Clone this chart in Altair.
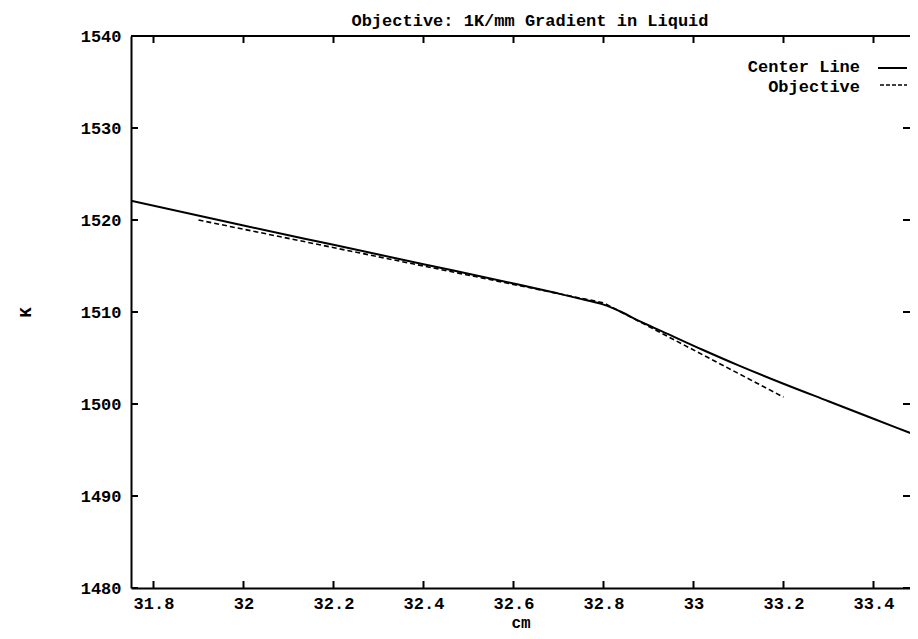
import altair as alt
import pandas as pd

# ---- data ----
center_x = [31.75, 32.0, 32.2, 32.4, 32.6, 32.7, 32.76, 32.8, 32.84, 32.88, 32.93,
            33.02, 33.1, 33.2, 33.3, 33.4, 33.5]
center_y = [1522.1, 1519.4, 1517.3, 1515.2, 1513.1, 1512.0, 1511.3, 1510.8, 1510.0,
            1509.0, 1507.9, 1505.9, 1504.2, 1502.2, 1500.3, 1498.4, 1496.5]

obj_x = [31.9, 32.8, 33.2]
obj_y = [1520.0, 1511.0, 1500.75]

x_ticks = [31.8, 32.0, 32.2, 32.4, 32.6, 32.8, 33.0, 33.2, 33.4]
y_ticks = [1480, 1490, 1500, 1510, 1520, 1530, 1540]
legend_labels = ["Center Line", "Objective"]
title_text = ["Objective: 1K/mm Gradient in Liquid"]

W, H = 779, 552
FONT = "Liberation Mono"
FS = 17

xscale = alt.Scale(domain=[31.75, 31.75 + W / 450.0], nice=False, zero=False)
yscale = alt.Scale(domain=[1480, 1540], nice=False, zero=False)

xaxis = alt.Axis(values=x_ticks, format="~g", ticks=False, grid=False,
                 domain=True, domainColor="black", domainWidth=2,
                 labelPadding=7, titleY=42, titleBaseline="bottom", titleFontSize=16)
yaxis = alt.Axis(values=y_ticks, format="d", ticks=False, grid=False,
                 domain=True, domainColor="black", domainWidth=2,
                 labelPadding=10, titleX=-106, titleY=H / 2, titleAngle=-90,
                 titleAlign="center", titleBaseline="middle")


def X(field):
    return alt.X(f"{field}:Q", scale=xscale, axis=xaxis, title="cm")


def Y(field):
    return alt.Y(f"{field}:Q", scale=yscale, axis=yaxis, title="K")


center_df = pd.DataFrame({"x": center_x, "y": center_y})
obj_df = pd.DataFrame({"x": obj_x, "y": obj_y})
xt_df = pd.DataFrame({"v": x_ticks})
yt_df = pd.DataFrame({"v": y_ticks})
title_df = pd.DataFrame({"t": title_text})

center = alt.Chart(center_df).mark_line(color="black", strokeWidth=2, interpolate="monotone",
                                        clip=True).encode(x=X("x"), y=Y("y"))
objective = alt.Chart(obj_df).mark_line(color="black", strokeWidth=1.6, strokeDash=[5, 3],
                                        clip=True).encode(x=X("x"), y=Y("y"))

tick_style = dict(size=14, thickness=2, color="black", clip=True, opacity=1)
xt_bottom = alt.Chart(xt_df).mark_tick(orient="vertical", **tick_style).encode(x=X("v"), y=alt.value(H))
xt_top = alt.Chart(xt_df).mark_tick(orient="vertical", **tick_style).encode(x=X("v"), y=alt.value(0))
yt_left = alt.Chart(yt_df).mark_tick(orient="horizontal", **tick_style).encode(y=Y("v"), x=alt.value(0))
yt_right = alt.Chart(yt_df).mark_tick(orient="horizontal", **tick_style).encode(y=Y("v"), x=alt.value(W))

# top border of the frame (the right border lies outside the reference crop)
top_border = alt.Chart(title_df).mark_rule(color="black", strokeWidth=2).encode(
    x=alt.value(0), x2=alt.value(W), y=alt.value(0))

# chart title drawn as a text mark above the plot area
title = alt.Chart(title_df).mark_text(
    align="center", baseline="alphabetic", font=FONT, fontSize=FS, fontWeight="bold", color="black"
).encode(text="t:N", x=alt.value(399), y=alt.value(-10))

# legend (gnuplot style: label, then line sample)
leg1 = pd.DataFrame({"label": [legend_labels[0]]})
leg2 = pd.DataFrame({"label": [legend_labels[1]]})
txt_style = dict(align="right", baseline="middle", font=FONT, fontSize=FS, fontWeight="bold", color="black")
l1_text = alt.Chart(leg1).mark_text(**txt_style).encode(text="label:N", x=alt.value(729), y=alt.value(31))
l1_line = alt.Chart(leg1).mark_rule(color="black", strokeWidth=2).encode(
    x=alt.value(747), x2=alt.value(776), y=alt.value(32))
l2_text = alt.Chart(leg2).mark_text(**txt_style).encode(text="label:N", x=alt.value(729), y=alt.value(51))
l2_line = alt.Chart(leg2).mark_rule(color="black", strokeWidth=1.6, strokeDash=[4, 2]).encode(
    x=alt.value(749), x2=alt.value(776), y=alt.value(49))

chart = alt.layer(
    center, objective, xt_bottom, xt_top, yt_left, yt_right, top_border,
    title, l1_text, l1_line, l2_text, l2_line
).properties(
    width=W, height=H,
    autosize=alt.AutoSizeParams(type="none"),
    padding={"left": 123, "top": 28, "right": 0, "bottom": 43},
    background="white",
).configure_view(
    stroke=None
).configure_axis(
    labelFont=FONT, labelFontSize=FS, labelFontWeight="bold", labelColor="black",
    titleFont=FONT, titleFontSize=FS, titleFontWeight="bold", titleColor="black",
)

chart.save("out.html", embed_options={"renderer": "svg", "actions": False})
